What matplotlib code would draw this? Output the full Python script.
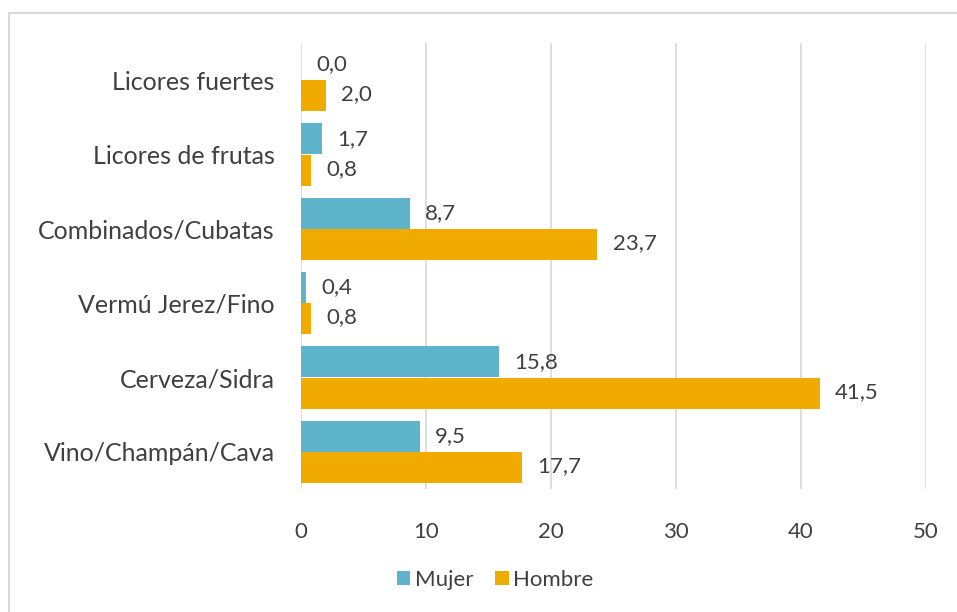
import matplotlib.pyplot as plt
import numpy as np
from matplotlib.patches import Rectangle

# data (bottom to top as drawn)
categories = ['Vino/Champán/Cava', 'Cerveza/Sidra', 'Vermú Jerez/Fino',
              'Combinados/Cubatas', 'Licores de frutas', 'Licores fuertes']
mujer = [9.5, 15.8, 0.4, 8.7, 1.7, 0.0]
hombre = [17.7, 41.5, 0.8, 23.7, 0.8, 2.0]
x_ticks = [0, 10, 20, 30, 40, 50]

TEAL = '#5DB4CB'
ORANGE = '#F0AA00'
TEXT = '#404040'
GRID = '#D9D9D9'

plt.rcParams['font.family'] = ['Lato', 'DejaVu Sans']

W, H = 957, 612
fig = plt.figure(figsize=(W / 100, H / 100), dpi=100)
ax = fig.add_axes([301 / W, 1 - 489 / H, (926 - 301) / W, (489 - 43) / H])

y = np.arange(len(categories))
h = 0.415
ax.barh(y + 0.21, mujer, height=h, color=TEAL, label='Mujer', zorder=3)
ax.barh(y - 0.21, hombre, height=h, color=ORANGE, label='Hombre', zorder=3)

# value labels, comma decimals
for yi, v in zip(y + 0.21, mujer):
    ax.annotate(f'{v:.1f}'.replace('.', ','), (v, yi), xytext=(11, 0),
                textcoords='offset points', va='center', ha='left',
                fontsize=16, color=TEXT)
for yi, v in zip(y - 0.21, hombre):
    ax.annotate(f'{v:.1f}'.replace('.', ','), (v, yi), xytext=(11, 1),
                textcoords='offset points', va='center', ha='left',
                fontsize=16, color=TEXT)

ax.set_xlim(0, 50)
ax.set_ylim(-0.5, len(categories) - 0.5)
ax.set_xticks(x_ticks)
ax.set_xticklabels([str(t) for t in x_ticks])
ax.set_yticks(y)
ax.set_yticklabels(categories, fontsize=18)
ax.tick_params(axis='both', length=0, colors=TEXT)
ax.tick_params(axis='x', pad=24, labelsize=16)
ax.tick_params(axis='y', pad=19)
ax.grid(axis='x', color=GRID, linewidth=1.2, zorder=0)
for s in ax.spines.values():
    s.set_visible(False)

handles, labels = ax.get_legend_handles_labels()
fig.legend(handles, labels, loc='center', bbox_to_anchor=(495 / W, 1 - 580 / H),
           ncol=2, frameon=False, fontsize=16, handlelength=0.6, handleheight=0.6,
           handletextpad=0.2, columnspacing=1.0, labelcolor=TEXT)

# chart area border (right and bottom edges run off the image)
fig.patches.append(Rectangle((9 / W, -0.1), 1.1, 1.1 - 13 / H,
                             transform=fig.transFigure, fill=False,
                             edgecolor='#D9D9D9', linewidth=1.5))

fig.savefig('out.png', dpi=100)
